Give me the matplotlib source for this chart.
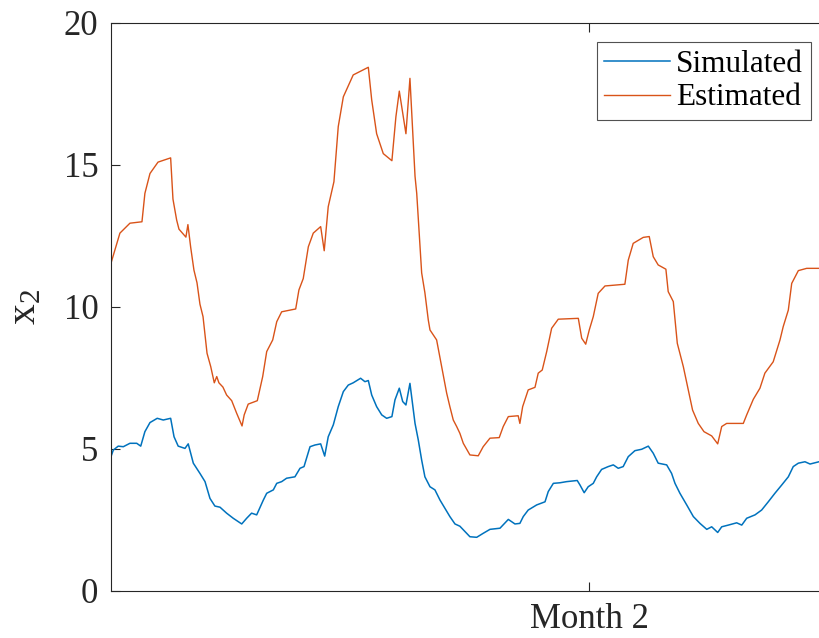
import matplotlib
matplotlib.use("Agg")
import matplotlib.pyplot as plt

plt.rcParams['font.family'] = ['Liberation Serif', 'DejaVu Serif']
plt.rcParams['mathtext.fontset'] = 'custom'
plt.rcParams['mathtext.rm'] = 'Liberation Serif'
plt.rcParams['mathtext.default'] = 'regular'

# time in days
est_t = [0.0, 0.58, 1.23, 2.01, 2.20, 2.53, 3.05, 3.87, 4.02, 4.26, 4.41, 4.86, 4.99, 5.17,
         5.38, 5.58, 5.77, 5.97, 6.23, 6.47, 6.70, 6.86, 7.00, 7.26, 7.50, 7.83, 8.15, 8.50,
         8.64, 8.90, 9.49, 9.84, 10.10, 10.49, 10.75, 11.07, 11.98, 12.19, 12.47, 12.80,
         13.12, 13.60, 13.83, 14.09, 14.46, 14.74, 15.07, 15.71, 16.69, 16.91, 17.23, 17.66,
         18.22, 18.48, 18.70, 19.13, 19.39, 19.72, 19.83, 20.15, 20.36, 20.58, 20.69, 21.12,
         21.34, 21.77, 21.98, 22.20, 22.42, 22.63, 22.85, 23.28, 23.82, 24.14, 24.58, 25.18,
         25.44, 25.77, 26.41, 26.52, 26.70, 27.06, 27.50, 27.71, 27.97, 28.26, 28.58, 29.01,
         30.31, 30.53, 30.79, 31.02, 31.28, 31.60, 32.04, 33.33, 33.55, 33.87, 34.52, 34.91,
         35.17, 35.49, 35.99, 36.14, 36.47, 36.73, 37.12, 37.44, 37.72, 38.09, 38.46, 38.96,
         39.35, 39.61, 39.93, 41.01, 41.23, 41.66, 42.09, 42.41, 42.95, 43.39, 43.60, 43.93,
         44.15, 44.58, 45.12, 45.92]
est_v = [11.54, 12.6, 12.95, 13.0, 14.0, 14.7, 15.1, 15.25, 13.8, 13.06, 12.74, 12.46, 12.9, 12.1,
         11.3, 10.85, 10.1, 9.66, 8.37, 7.9, 7.33, 7.55, 7.33, 7.18, 6.9, 6.7, 6.26, 5.81,
         6.2, 6.58, 6.7, 7.55, 8.43, 8.84, 9.48, 9.83, 9.93, 10.6, 11.0, 12.12,
         12.6, 12.83, 11.98, 13.53, 14.41, 16.35, 17.4, 18.17, 18.44, 17.29, 16.1, 15.4,
         15.15, 16.7, 17.6, 16.1, 18.05, 14.6, 14.0, 11.2, 10.5, 9.54, 9.19, 8.84,
         8.2, 6.97, 6.49, 6.02, 5.79, 5.55, 5.2, 4.79, 4.76, 5.08, 5.38, 5.4,
         5.79, 6.14, 6.17, 5.9, 6.49, 7.08, 7.17, 7.67, 7.78, 8.43, 9.25, 9.57,
         9.6, 8.9, 8.69, 9.19, 9.66, 10.48, 10.74, 10.8, 11.65, 12.24, 12.45, 12.48,
         11.77, 11.48, 11.33, 10.54, 10.19, 8.72, 7.9, 7.08, 6.37, 5.9, 5.61, 5.46,
         5.18, 5.79, 5.9, 5.9, 6.2, 6.75, 7.14, 7.67, 8.07, 8.84, 9.31, 9.89,
         10.83, 11.28, 11.36, 11.36]

sim_t = [0.0, 0.15, 0.47, 0.80, 1.23, 1.67, 1.93, 2.20, 2.53, 3.00, 3.39, 3.87, 4.09, 4.36,
         4.80, 5.01, 5.34, 5.77, 6.10, 6.42, 6.74, 7.07, 7.50, 7.93, 8.48, 8.80, 9.12, 9.45,
         9.88, 10.10, 10.53, 10.75, 11.07, 11.39, 11.93, 12.26, 12.52, 12.91, 13.23, 13.60,
         13.86, 14.09, 14.42, 14.74, 15.07, 15.39, 15.71, 16.19, 16.47, 16.69, 16.91, 17.23,
         17.56, 17.88, 18.22, 18.42, 18.70, 18.92, 19.13, 19.39, 19.72, 19.93, 20.15, 20.36,
         20.69, 21.01, 21.34, 21.66, 21.98, 22.31, 22.63, 23.28, 23.72, 24.14, 24.58, 25.23,
         25.77, 26.20, 26.52, 26.74, 27.06, 27.61, 28.15, 28.36, 28.69, 29.12, 29.55, 30.24,
         30.42, 30.69, 30.95, 31.28, 31.50, 31.82, 32.25, 32.58, 32.90, 33.22, 33.55, 33.98,
         34.42, 34.85, 35.17, 35.49, 36.04, 36.36, 36.58, 36.90, 37.34, 37.77, 38.20, 38.64,
         38.96, 39.35, 39.61, 40.04, 40.58, 40.91, 41.23, 41.77, 42.20, 42.63, 43.06, 43.50,
         43.93, 44.25, 44.58, 45.01, 45.34, 45.92]
sim_v = [4.73, 4.96, 5.1, 5.08, 5.2, 5.2, 5.1, 5.61, 5.93, 6.08, 6.02, 6.08, 5.43, 5.1,
         5.02, 5.18, 4.5, 4.14, 3.85, 3.26, 2.99, 2.95, 2.74, 2.56, 2.36, 2.56, 2.74, 2.68,
         3.2, 3.44, 3.56, 3.79, 3.85, 3.97, 4.02, 4.32, 4.38, 5.08, 5.14, 5.18,
         4.75, 5.43, 5.85, 6.49, 7.02, 7.25, 7.33, 7.49, 7.37, 7.41, 6.9, 6.49,
         6.2, 6.08, 6.14, 6.73, 7.14, 6.67, 6.55, 7.31, 5.9, 5.32, 4.61, 4.02,
         3.67, 3.56, 3.2, 2.91, 2.62, 2.36, 2.28, 1.91, 1.89, 2.03, 2.17, 2.21,
         2.52, 2.36, 2.38, 2.62, 2.85, 3.03, 3.14, 3.5, 3.79, 3.81, 3.85, 3.89,
         3.73, 3.46, 3.67, 3.79, 4.02, 4.28, 4.38, 4.44, 4.32, 4.38, 4.73, 4.94,
         4.99, 5.1, 4.85, 4.5, 4.44, 4.14, 3.79, 3.44, 3.03, 2.62, 2.38, 2.17,
         2.26, 2.06, 2.26, 2.32, 2.4, 2.32, 2.56, 2.68, 2.85, 3.14, 3.44, 3.73,
         4.02, 4.38, 4.5, 4.55, 4.47, 4.55]

x_ticks = [31.02]
x_tick_labels = ['Month 2']
y_ticks = [0, 5, 10, 15, 20]

fig = plt.figure(figsize=(8.19, 6.38), dpi=100)
ax = fig.add_axes([0.1355, 0.0737, 0.8645, 0.8903])

ax.plot(sim_t, sim_v, color='#0072BD', lw=1.1, label='Simulated')
ax.plot(est_t, est_v, color='#D95319', lw=1.0, label='Estimated')

ax.set_xlim(0, 45.92)
ax.set_ylim(0, 20)
ax.set_xticks(x_ticks)
ax.set_xticklabels(x_tick_labels)
ax.set_yticks(y_ticks)
ax.tick_params(direction='in', length=6.5, width=0.8, colors='#262626',
               labelsize=25, top=True, right=False)
ax.tick_params(axis='x', pad=9)
ax.tick_params(axis='y', pad=9)
for side in ['left', 'top', 'bottom']:
    ax.spines[side].set_color('#262626')
    ax.spines[side].set_linewidth(0.8)
ax.spines['right'].set_visible(False)

ax.set_ylabel('x$_2$', fontsize=30, color='#262626', labelpad=14)

leg = ax.legend(loc='upper right', bbox_to_anchor=(0.9887, 0.9665), fontsize=22.5,
                frameon=True, fancybox=False, handlelength=2.1, handletextpad=0.2,
                borderpad=0.25, labelspacing=0.15, borderaxespad=0)
leg.get_frame().set_edgecolor('#262626')
leg.get_frame().set_linewidth(0.8)

fig.savefig('out.png', dpi=100)
